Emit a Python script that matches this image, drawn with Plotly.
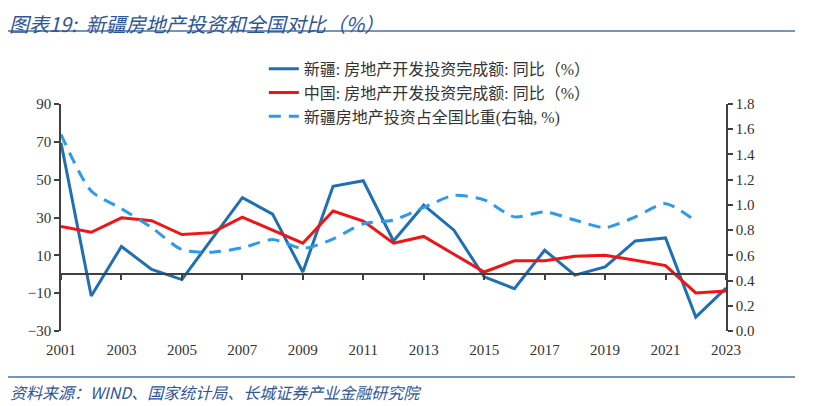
import plotly.graph_objects as go

years = list(range(2001, 2024))
xinjiang_yoy = [69.5, -11.5, 14.7, 2.5, -2.8, 19.0, 40.5, 31.8, 1.2, 46.5, 49.4, 17.6,
                36.5, 23.3, -1.4, -7.6, 12.7, -0.5, 3.9, 17.6, 19.2, -22.6, -7.3]
china_yoy = [25.3, 22.2, 29.8, 28.3, 21.0, 22.0, 30.2, 23.5, 16.4, 33.4, 28.1, 16.4,
             20.0, 10.6, 1.2, 7.1, 7.2, 9.5, 10.0, 7.4, 4.6, -9.9, -8.8]
xinjiang_share = [1.56, 1.11, 0.97, 0.82, 0.645, 0.625, 0.66, 0.725, 0.655, 0.73, 0.85, 0.88,
                  0.98, 1.075, 1.04, 0.905, 0.945, 0.88, 0.82, 0.905, 1.01, 0.87, None]

names = ["新疆: 房地产开发投资完成额: 同比（%）",
         "中国: 房地产开发投资完成额: 同比（%）",
         "新疆房地产投资占全国比重(右轴, %)"]

serif = "Liberation Serif, Noto Sans CJK SC"
cjk = "Liberation Serif, Noto Sans CJK SC"
tick_color = "#333333"
axis_color = "#404040"

# page body has an 8px margin, so the figure is drawn 8px smaller and offset
W, H = 812, 398
L, R, T, B = 53, 94, 96, 75
PW, PH = W - L - R, H - T - B

fig = go.Figure()
fig.add_trace(go.Scatter(x=years, y=xinjiang_yoy, name=names[0], mode="lines",
                         line=dict(color="#1F6FB2", width=3), yaxis="y", xaxis="x"))
fig.add_trace(go.Scatter(x=years, y=china_yoy, name=names[1], mode="lines",
                         line=dict(color="#F01414", width=3), yaxis="y", xaxis="x"))
fig.add_trace(go.Scatter(x=years, y=xinjiang_share, name=names[2], mode="lines",
                         line=dict(color="#2E9BEA", width=3, dash="12px,8px",
                                   shape="spline", smoothing=0.7),
                         yaxis="y2", xaxis="x"))
# helper trace so the zero-line tick axis is drawn
fig.add_trace(go.Scatter(x=years, y=[None] * len(years), xaxis="x2", yaxis="y",
                         showlegend=False, hoverinfo="skip"))

fig.update_layout(
    width=W, height=H,
    margin=dict(l=L, r=R, t=T, b=B),
    paper_bgcolor="white", plot_bgcolor="white",
    showlegend=True,
    legend=dict(x=0.305, y=1.23, xanchor="left", yanchor="top",
                font=dict(family=cjk, size=16, color="#333333"),
                bgcolor="rgba(0,0,0,0)", tracegroupgap=0),
    xaxis=dict(range=[2001, 2023], tickmode="array",
               tickvals=list(range(2001, 2024, 2)),
               showline=False, ticks="", showgrid=False, zeroline=False,
               tickfont=dict(family=serif, size=15, color=tick_color),
               ticklabelstandoff=8),
    xaxis2=dict(range=[2001, 2023], overlaying="x", anchor="free", position=0.25,
                tickmode="array", tickvals=list(range(2001, 2024, 2)),
                showline=True, linecolor=axis_color, linewidth=1.5,
                ticks="outside", ticklen=5, tickcolor=axis_color, tickwidth=1.5,
                showticklabels=False, showgrid=False, zeroline=False),
    yaxis=dict(range=[-30, 90], tickmode="linear", tick0=-30, dtick=20,
               showline=True, linecolor=axis_color, linewidth=1.5,
               ticks="outside", ticklen=5, tickcolor=axis_color, tickwidth=1.5,
               showgrid=False, zeroline=False,
               tickfont=dict(family=serif, size=15, color=tick_color)),
    yaxis2=dict(range=[0, 1.8], tickmode="linear", tick0=0, dtick=0.2,
                tickformat=".1f", overlaying="y", side="right", anchor="x",
                showline=True, linecolor=axis_color, linewidth=1.5,
                ticks="outside", ticklen=5, tickcolor=axis_color, tickwidth=1.5,
                showgrid=False, zeroline=False,
                tickfont=dict(family=serif, size=15, color=tick_color)),
)

fig.add_annotation(text="图表19:  新疆房地产投资和全国对比（%）", xref="paper", yref="paper",
                   x=-L/PW, y=1 + T/PH, xanchor="left", yanchor="top",
                   showarrow=False, borderpad=0,
                   font=dict(family="Noto Sans CJK SC", size=20, color="#2E5597", style="italic"))
fig.add_annotation(text="资料来源：WIND、国家统计局、长城证券产业金融研究院", xref="paper", yref="paper",
                   x=-L/PW, y=-(392 - 331)/PH, xanchor="left", yanchor="middle",
                   showarrow=False,
                   font=dict(family="Noto Sans CJK SC", size=16, color="#2E5597", style="italic"))
fig.add_shape(type="line", xref="paper", yref="paper",
              x0=-L/PW, x1=(795 - 61)/PW, y0=1 + (104 - 31)/PH, y1=1 + (104 - 31)/PH,
              line=dict(color="#4A6FA5", width=1.5))
fig.add_shape(type="line", xref="paper", yref="paper",
              x0=-L/PW, x1=(795 - 61)/PW, y0=-(377 - 331)/PH, y1=-(377 - 331)/PH,
              line=dict(color="#4A6FA5", width=1.5))

fig.write_html("out.html")
